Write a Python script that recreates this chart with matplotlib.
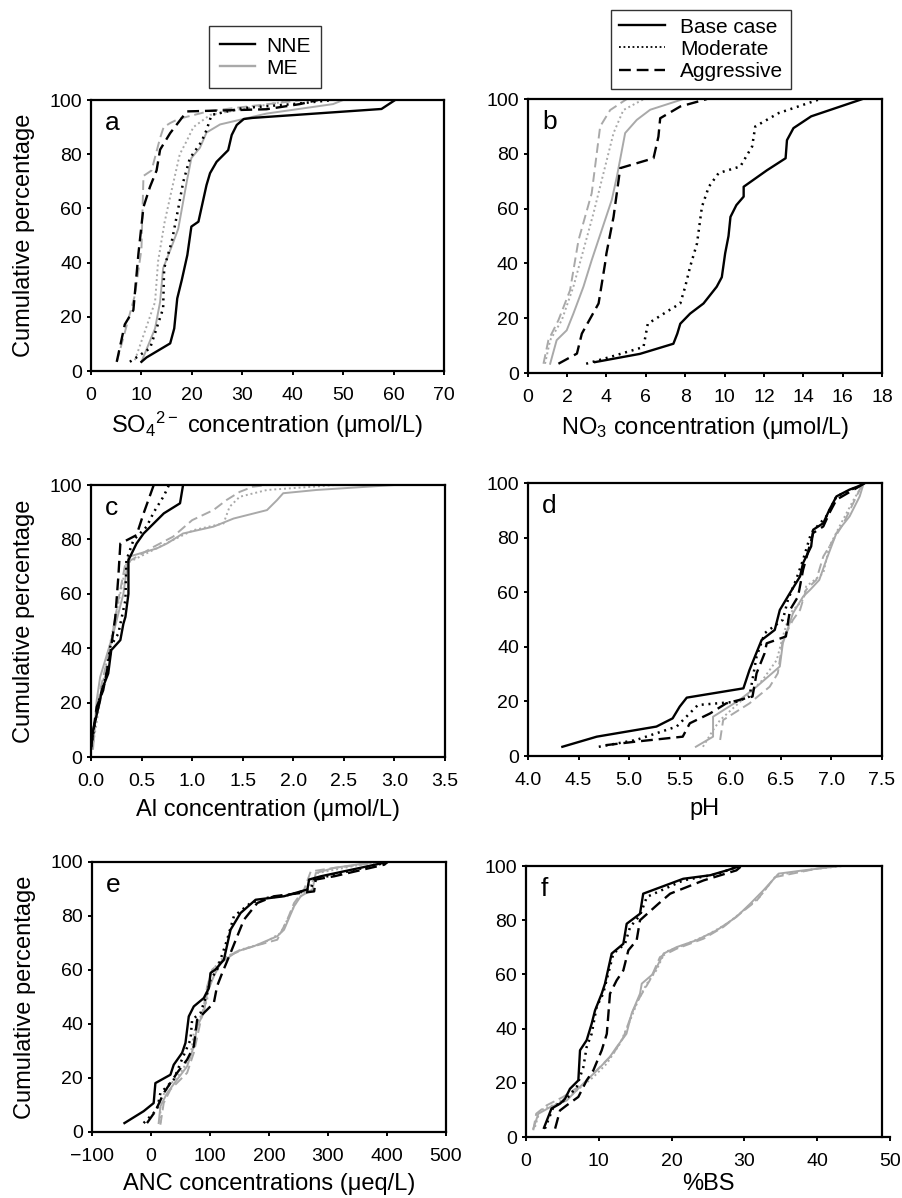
import matplotlib
matplotlib.use('Agg')
import matplotlib.pyplot as plt
from matplotlib.lines import Line2D

plt.rcParams['font.family'] = ['Liberation Sans', 'DejaVu Sans']
plt.rcParams['mathtext.fontset'] = 'custom'
plt.rcParams['mathtext.rm'] = 'Liberation Sans'
plt.rcParams['mathtext.it'] = 'Liberation Sans:italic'

# ---- panel a: SO4 ----
a_nne_base = [(10.0, 3.4), (11.0, 5.0), (15.7, 10.2), (16.5, 15.7), (17.1, 26.8), (18.0, 33.6),
              (19.1, 42.8), (19.9, 53.3), (21.3, 55.1), (22.9, 68.6), (23.6, 73.0), (24.9, 77.2),
              (27.2, 81.5), (27.9, 87.1), (28.9, 90.8), (30.3, 93.0), (32.0, 93.4), (57.6, 96.7), (60.3, 100)]
a_nne_mod = [(7.7, 3.4), (11.7, 8.4), (14.3, 23.1), (14.5, 37.9), (16.0, 47.7), (17.3, 60.0),
             (18.3, 69.9), (19.6, 78.5), (21.9, 84.6), (22.9, 88.9), (23.9, 94.5), (30.0, 97.0),
             (40.0, 98.5), (48.0, 100)]
a_nne_agg = [(5.1, 3.4), (6.7, 17.2), (8.4, 22.5), (9.4, 43.3), (10.4, 60.5), (11.7, 68.0),
             (13.0, 74.0), (13.7, 81.7), (15.7, 87.8), (19.0, 95.8), (34.8, 96.6), (41.4, 98.5), (45.0, 100)]
a_me_base = [(10.0, 3.4), (12.7, 15.7), (13.7, 25.5), (14.3, 37.9), (16.0, 46.0), (17.3, 52.5),
             (19.0, 70.0), (19.9, 78.6), (21.6, 82.4), (22.9, 88.0), (25.6, 91.0), (30.2, 93.0),
             (34.8, 95.0), (48.0, 98.5), (50.0, 100)]
a_me_mod = [(8.7, 4.0), (12.7, 25.5), (13.3, 40.5), (14.6, 55.0), (15.9, 66.0), (17.6, 80.0),
            (19.0, 85.0), (20.3, 90.0), (23.6, 94.5), (40.0, 100)]
a_me_agg = [(5.1, 3.3), (8.7, 28.0), (10.0, 45.0), (10.4, 72.0), (12.0, 74.0), (13.7, 86.0),
            (14.4, 90.0), (15.7, 91.5), (17.3, 93.0), (23.6, 96.0), (42.0, 100)]

# ---- panel b: NO3 ----
b_nne_base = [(3.42, 4.0), (5.7, 7.0), (7.4, 10.7), (7.6, 14.4), (7.75, 18.0), (8.25, 21.7),
              (8.93, 25.4), (9.6, 31.5), (9.86, 35.0), (10.03, 43.7), (10.2, 50.0), (10.3, 57.0),
              (10.6, 61.3), (10.97, 64.4), (10.97, 68.0), (12.15, 74.0), (13.1, 78.4), (13.17, 85.0),
              (13.5, 89.4), (14.4, 93.7), (17.0, 100)]
b_nne_mod = [(2.97, 3.4), (4.2, 5.9), (5.88, 9.5), (6.1, 18.0), (7.2, 23.0), (7.75, 25.4),
             (8.0, 31.5), (8.25, 38.8), (8.6, 47.3), (8.85, 60.7), (9.2, 68.0), (9.7, 73.0),
             (10.8, 75.4), (11.4, 82.7), (11.56, 90.0), (12.75, 94.9), (14.86, 100)]
b_nne_agg = [(1.56, 3.4), (2.5, 7.1), (2.75, 14.4), (3.6, 25.4), (3.93, 40.0), (4.0, 43.7),
             (4.36, 57.0), (4.7, 74.8), (6.39, 78.4), (6.64, 86.3), (6.73, 93.0), (7.75, 97.3), (9.1, 100)]
b_me_base = [(1.14, 3.4), (1.47, 12.0), (1.98, 15.6), (2.32, 21.7), (2.83, 31.5), (3.25, 41.2),
             (3.76, 52.2), (4.27, 63.2), (4.53, 71.7), (4.95, 87.6), (5.54, 92.4), (6.22, 96.1), (7.9, 100)]
b_me_mod = [(0.88, 3.4), (1.14, 12.0), (1.73, 19.3), (2.32, 31.5), (2.83, 44.9), (3.34, 58.3),
            (3.85, 73.0), (4.36, 87.6), (4.86, 96.0), (5.9, 100)]
b_me_agg = [(0.8, 3.4), (1.05, 12.0), (1.56, 19.3), (2.15, 30.2), (2.58, 48.5), (3.25, 65.6),
            (3.68, 90.0), (4.19, 96.0), (5.03, 100)]

# ---- panel c: Al ----
c_nne_base = [(0.0, 3.0), (0.02, 9.8), (0.09, 20.9), (0.105, 24.5), (0.17, 30.7), (0.2, 39.3),
              (0.29, 43.0), (0.32, 49.0), (0.34, 51.5), (0.37, 60.0), (0.37, 72.4), (0.45, 78.5),
              (0.52, 82.2), (0.72, 89.6), (0.88, 93.3), (0.91, 100)]
c_nne_mod = [(0.0, 3.7), (0.07, 19.6), (0.155, 30.7), (0.19, 40.5), (0.27, 45.4), (0.34, 57.7),
             (0.35, 72.4), (0.42, 79.8), (0.55, 84.7), (0.62, 90.0), (0.72, 96.0), (0.77, 100)]
c_nne_agg = [(0.0, 3.7), (0.056, 18.4), (0.12, 24.5), (0.19, 38.0), (0.24, 51.5), (0.27, 66.3),
             (0.29, 78.5), (0.45, 81.6), (0.52, 89.6), (0.62, 100)]
c_me_base = [(0.02, 3.0), (0.056, 20.9), (0.09, 29.4), (0.22, 45.4), (0.32, 60.0), (0.37, 73.6),
             (0.65, 76.7), (0.75, 78.5), (0.91, 82.2), (1.21, 84.7), (1.41, 87.7), (1.74, 90.8),
             (1.84, 94.5), (1.9, 97.0), (2.23, 98.2), (2.99, 100)]
c_me_mod = [(0.016, 3.7), (0.155, 35.6), (0.25, 52.8), (0.35, 71.2), (0.48, 73.6), (0.81, 79.8),
            (1.01, 83.4), (1.31, 85.9), (1.37, 92.0), (1.47, 95.7), (1.74, 98.2), (2.27, 99.6), (2.4, 100)]
c_me_agg = [(0.007, 3.7), (0.09, 24.5), (0.19, 40.5), (0.27, 57.7), (0.34, 71.2), (0.62, 77.3),
            (0.81, 81.0), (1.0, 87.1), (1.21, 90.8), (1.34, 94.5), (1.47, 97.5), (1.6, 99.4), (1.74, 100)]

# ---- panel d: pH ----
d_nne_base = [(4.34, 3.4), (4.68, 7.1), (5.27, 10.8), (5.43, 13.8), (5.5, 18.1), (5.57, 21.4),
              (6.13, 24.8), (6.19, 31.5), (6.31, 42.5), (6.44, 46.2), (6.49, 53.5), (6.59, 59.7),
              (6.69, 65.8), (6.72, 70.7), (6.8, 76.8), (6.82, 82.9), (6.92, 85.3), (6.98, 90.2),
              (7.05, 95.1), (7.18, 97.6), (7.28, 99.0), (7.33, 100)]
d_nne_mod = [(4.7, 3.4), (5.07, 5.9), (5.47, 10.8), (5.68, 18.7), (6.06, 19.9), (6.19, 21.8),
             (6.26, 36.4), (6.34, 45.0), (6.52, 49.9), (6.57, 57.2), (6.65, 64.5), (6.72, 71.9),
             (6.8, 81.7), (6.95, 87.8), (7.05, 95.1), (7.28, 99.0), (7.33, 100)]
d_nne_agg = [(4.77, 4.0), (5.07, 5.3), (5.53, 7.1), (5.6, 12.0), (5.8, 15.6), (5.96, 19.3),
             (6.22, 21.8), (6.26, 30.3), (6.34, 37.7), (6.36, 41.3), (6.55, 43.8), (6.59, 53.5),
             (6.67, 58.4), (6.72, 68.2), (6.82, 81.7), (6.92, 84.1), (6.98, 89.0), (7.05, 93.9),
             (7.25, 98.2), (7.33, 100)]
d_me_base = [(5.66, 3.4), (5.83, 7.1), (5.83, 14.4), (6.09, 20.5), (6.26, 25.4), (6.49, 32.8),
             (6.52, 41.3), (6.62, 52.3), (6.72, 58.4), (6.79, 60.9), (6.88, 64.5), (6.95, 71.9),
             (7.05, 81.7), (7.18, 87.8), (7.28, 95.1), (7.32, 100)]
d_me_mod = [(5.73, 3.4), (5.83, 9.5), (5.9, 13.2), (6.19, 23.0), (6.32, 27.9), (6.46, 35.2),
            (6.52, 43.8), (6.59, 52.3), (6.72, 57.2), (6.75, 62.1), (6.92, 67.0), (6.98, 76.8),
            (7.08, 84.1), (7.22, 93.9), (7.32, 100)]
d_me_agg = [(5.9, 5.9), (5.93, 13.2), (6.19, 19.3), (6.39, 25.4), (6.47, 30.3), (6.52, 42.5),
            (6.62, 49.9), (6.69, 53.5), (6.75, 60.9), (6.85, 64.5), (6.92, 73.1), (7.02, 79.2),
            (7.12, 85.3), (7.2, 91.4), (7.28, 97.6), (7.32, 100)]

# ---- panel e: ANC ----
e_nne_base = [(-45, 3.3), (-12.5, 7.7), (4.5, 10.7), (7.4, 18.1), (32.9, 21.2), (38.5, 24.9),
              (52.7, 29.3), (58.4, 33.0), (64, 42.8), (72.5, 46.5), (89.5, 49.6), (98, 53.3),
              (100.9, 58.9), (109, 60.1), (123.5, 63.8), (134.8, 74.9), (151.8, 81.1), (177.3, 86.0),
              (225.5, 87.3), (265, 89.8), (268, 93.5), (288, 94.7), (367, 98.4), (401, 100)]
e_nne_mod = [(-12.5, 3.3), (10.2, 8.3), (15.9, 14.4), (38.5, 19.4), (50, 25.6), (66.9, 34.2),
             (69.7, 41.6), (83.9, 44.1), (95.2, 51.5), (100.9, 56.4), (112, 60.1), (129, 71.2),
             (140.5, 79.9), (168.8, 84.8), (197, 86.7), (236.8, 87.9), (270.8, 90.0), (276.5, 93.5),
             (310.5, 95.3), (395.5, 99.6)]
e_nne_agg = [(-6.8, 3.3), (7.4, 7.7), (21.5, 14.4), (44.2, 21.9), (61.2, 26.8), (72.5, 31.7),
             (78.2, 41.6), (95.2, 45.3), (106.5, 47.8), (112, 54.0), (120.7, 58.9), (134.8, 66.3),
             (146.2, 72.5), (157.5, 78.6), (180.2, 84.8), (208.5, 87.3), (276.5, 89.1), (279.3, 93.5),
             (310.5, 94.7), (395.5, 99.0), (401, 100)]
e_me_base = [(13, 3.3), (15.9, 9.5), (27.2, 14.4), (44.2, 19.4), (61.2, 24.3), (72.5, 31.7),
             (78.2, 39.1), (89.5, 44.1), (95.2, 51.5), (106.5, 57.7), (118, 62.6), (146, 66.9),
             (174.5, 68.8), (214, 72.5), (225.5, 74.9), (242.5, 83.6), (253.8, 87.3), (273.7, 89.8),
             (279.3, 95.9), (310.5, 97.8), (378.5, 100)]
e_me_mod = [(15.9, 3.3), (15.9, 12.0), (30, 16.9), (50, 21.9), (66.9, 28.0), (72.5, 36.7),
            (83.9, 42.8), (95.2, 49.0), (100.9, 58.9), (117.8, 63.8), (151.8, 67.5), (191.5, 70.0),
            (219.8, 73.7), (236.8, 81.1), (248, 86.0), (265, 89.8), (282, 95.9), (355.8, 99.0), (384, 100)]
e_me_agg = [(15.9, 2.7), (21.5, 10.7), (32.9, 15.7), (61.2, 21.9), (72.5, 29.3), (81, 37.9),
            (89.5, 46.5), (95.2, 54.0), (103.7, 60.1), (129.2, 65.1), (163, 68.1), (214, 71.2),
            (231, 78.6), (242.5, 84.8), (259.5, 89.8), (270.8, 96.5), (310.5, 97.8), (378.5, 99.6)]

# ---- panel f: %BS ----
f_nne_base = [(2.47, 3.4), (3.5, 10.5), (4.67, 12.3), (5.36, 14.1), (6.04, 17.8), (7.19, 20.9),
              (7.42, 32.0), (8.33, 35.7), (9.02, 41.8), (9.48, 46.7), (10.4, 52.9), (10.85, 56.6),
              (11.77, 67.7), (13.37, 71.3), (13.83, 78.7), (15.66, 82.4), (16.1, 89.8), (21.6, 95.3),
              (25.3, 96.6), (27.6, 98.4), (29.4, 100)]
f_nne_mod = [(2.6, 3.1), (3.75, 11.0), (5.59, 14.1), (6.96, 18.5), (7.88, 25.8), (8.33, 33.2),
             (9.02, 38.1), (9.7, 48.0), (10.6, 52.9), (11.3, 60.3), (12.0, 67.7), (13.6, 71.3),
             (14.3, 77.5), (15.66, 81.8), (16.6, 88.6), (21.6, 94.7), (26.2, 97.0), (28.9, 99.6)]
f_nne_agg = [(4.0, 3.1), (4.67, 9.8), (5.59, 11.7), (7.19, 14.8), (8.33, 20.9), (9.25, 24.6),
             (10.4, 32.0), (11.1, 38.1), (11.54, 52.9), (12.45, 57.8), (13.37, 61.5), (14.06, 68.9),
             (15.2, 72.6), (15.66, 80.0), (18.2, 86.1), (19.8, 89.8), (24.4, 94.7), (28.9, 98.4), (29.6, 100)]
f_me_base = [(1.0, 3.1), (1.7, 8.6), (3.3, 11.0), (5.6, 13.5), (7.4, 18.5), (8.8, 22.1),
             (10.2, 25.8), (11.5, 29.5), (12.45, 33.2), (13.8, 38.1), (14.5, 45.5), (15.66, 52.9),
             (15.9, 56.6), (17.5, 60.3), (18.9, 67.7), (20.7, 70.1), (23.4, 72.6), (26.2, 76.3),
             (28.9, 81.2), (30.8, 86.1), (32.6, 91.0), (34.7, 97.2), (38.1, 98.4), (43.1, 100)]
f_me_mod = [(1.24, 3.7), (1.9, 9.8), (4.2, 12.3), (7.0, 17.2), (9.25, 22.1), (11.1, 27.1),
            (12.9, 34.4), (14.3, 43.0), (15.4, 50.4), (16.6, 56.6), (17.9, 61.5), (19.1, 68.3),
            (21.6, 70.7), (24.8, 74.4), (27.6, 78.7), (29.9, 83.6), (32.1, 88.6), (34.4, 96.6),
            (39.9, 99.0), (43.6, 100)]
f_me_agg = [(1.0, 2.5), (1.4, 8.6), (2.84, 11.7), (5.1, 14.8), (7.9, 19.7), (9.7, 24.6),
            (12.0, 30.8), (13.4, 36.9), (14.7, 46.7), (15.66, 51.7), (17.0, 57.8), (18.4, 66.4),
            (20.7, 69.5), (24.4, 73.2), (27.1, 77.5), (29.4, 82.4), (31.7, 87.3), (34.2, 95.9),
            (39.9, 99.0), (42.7, 100)]

xlabels = [r'SO$_4$$^{2-}$ concentration (μmol/L)', r'NO$_3$ concentration (μmol/L)',
           'Al concentration (μmol/L)', 'pH', 'ANC concentrations (μeq/L)', '%BS']
xlabelpads = [4, 6.5, 6.5, 6.5, 6.0, 2.5]
panel_letters = ['a', 'b', 'c', 'd', 'e', 'f']
xlims = [(0, 70), (0, 18), (0, 3.5), (4, 7.5), (-100, 500), (0, 50)]
xstep = [10, 2, 0.5, 0.5, 100, 10]
xfmt = ['{:.0f}', '{:.0f}', '{:.1f}', '{:.1f}', '{:.0f}', '{:.0f}']

curves = [
    [a_nne_base, a_nne_mod, a_nne_agg, a_me_base, a_me_mod, a_me_agg],
    [b_nne_base, b_nne_mod, b_nne_agg, b_me_base, b_me_mod, b_me_agg],
    [c_nne_base, c_nne_mod, c_nne_agg, c_me_base, c_me_mod, c_me_agg],
    [d_nne_base, d_nne_mod, d_nne_agg, d_me_base, d_me_mod, d_me_agg],
    [e_nne_base, e_nne_mod, e_nne_agg, e_me_base, e_me_mod, e_me_agg],
    [f_nne_base, f_nne_mod, f_nne_agg, f_me_base, f_me_mod, f_me_agg],
]

BLACK = 'black'
GRAY = '#a9a9a9'
styles = [
    dict(color=BLACK, lw=1.7, ls='-'),
    dict(color=BLACK, lw=1.8, ls=(0, (0.8, 1.9))),
    dict(color=BLACK, lw=1.7, ls=(0, (5, 2.5))),
    dict(color=GRAY, lw=1.4, ls='-'),
    dict(color=GRAY, lw=1.4, ls=(0, (1, 1.5))),
    dict(color=GRAY, lw=1.4, ls=(0, (5, 2.5))),
]

positions = [
    [0.1008, 0.6903, 0.3909, 0.2262],
    [0.5844, 0.6886, 0.3924, 0.2287],
    [0.1008, 0.3681, 0.3920, 0.2270],
    [0.5847, 0.3689, 0.3920, 0.2279],
    [0.1019, 0.0551, 0.3920, 0.2254],
    [0.5825, 0.0509, 0.4031, 0.2262],
]

fig = plt.figure(figsize=(9.03, 11.98), dpi=100)

for i in range(6):
    ax = fig.add_axes(positions[i])
    # gray (ME) first, black (NNE) on top
    for j in [3, 4, 5, 0, 1, 2]:
        xs = [p[0] for p in curves[i][j]]
        ys = [p[1] for p in curves[i][j]]
        ax.plot(xs, ys, **styles[j])
    lo, hi = xlims[i]
    ax.set_xlim(lo, hi)
    ax.set_ylim(0, 100)
    n = int(round((hi - lo) / xstep[i]))
    ticks = [lo + k * xstep[i] for k in range(n + 1)]
    ax.set_xticks(ticks)
    ax.set_xticklabels([xfmt[i].format(t).replace('-', '\u2212') for t in ticks])
    ax.set_yticks(range(0, 101, 20))
    ax.tick_params(direction='out', length=3, width=1.4, labelsize=14)
    ax.tick_params(axis='x', pad=8.5)
    ax.tick_params(axis='y', pad=3.5)
    for s in ax.spines.values():
        s.set_linewidth(1.6)
    ax.set_xlabel(xlabels[i], fontsize=17, labelpad=xlabelpads[i])
    if i % 2 == 0:
        ax.set_ylabel('Cumulative percentage', fontsize=17, labelpad=10)
    ax.text(0.04, 0.89, panel_letters[i], transform=ax.transAxes, fontsize=19, va='baseline')
    if i == 5:
        ax.spines['right'].set_position(('data', 48.9))
        ax.spines['top'].set_bounds(0, 48.9)

h1 = [Line2D([], [], color=BLACK, lw=1.7), Line2D([], [], color=GRAY, lw=1.7)]
fig.legend(h1, ['NNE', 'ME'], loc='upper left', bbox_to_anchor=(0.2315, 0.9783),
           fontsize=15, frameon=True, fancybox=False, edgecolor='black',
           handlelength=1.7, handletextpad=0.53, labelspacing=0.15, borderpad=0.51,
           borderaxespad=0).get_frame().set_linewidth(1.0)

h2 = [Line2D([], [], **styles[0]), Line2D([], [], color=BLACK, lw=1.3, ls=(0, (1, 1.5))),
      Line2D([], [], **styles[2])]
fig.legend(h2, ['Base case', 'Moderate', 'Aggressive'], loc='upper left',
           bbox_to_anchor=(0.6766, 0.9917), fontsize=15, frameon=True, fancybox=False,
           edgecolor='black', handlelength=2.2, handletextpad=0.74, labelspacing=0.15,
           borderpad=0.37, borderaxespad=0).get_frame().set_linewidth(1.0)

fig.savefig('out.png', dpi=100)
